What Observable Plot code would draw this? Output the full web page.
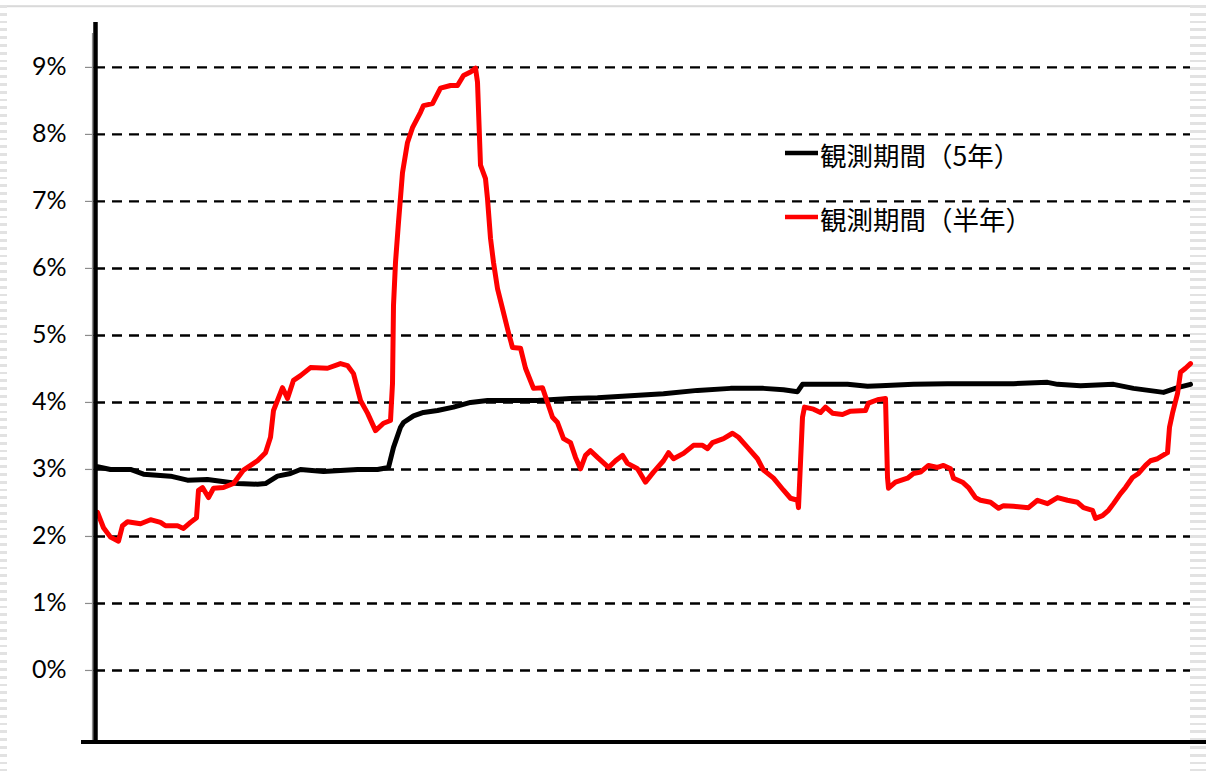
<!DOCTYPE html>
<html>
<head>
<meta charset="utf-8">
<script src="https://cdn.jsdelivr.net/npm/d3@7"></script>
<script src="https://cdn.jsdelivr.net/npm/@observablehq/plot@0.6"></script>
<style>
html, body { margin: 0; padding: 0; background: #fff; }
#chart {
  position: relative; width: 1206px; height: 771px;
  background: repeating-linear-gradient(to bottom, #ffffff 0px, #ffffff 5px, #e2e2e2 5px, #e2e2e2 7.8px);
}
#chart svg { display: block; }
</style>
</head>
<body>
<div id="chart"></div>
<script>
// ---- data ----
const yTicks = [0, 1, 2, 3, 4, 5, 6, 7, 8, 9];
const tickLabels = ["0%", "1%", "2%", "3%", "4%", "5%", "6%", "7%", "8%", "9%"];
const seriesNames = ["観測期間（5年）", "観測期間（半年）"];
const seriesColors = ["#000000", "#ff0000"];

// observation index (day) and rate in %, window = 5 years
const longDays = [
  2, 15, 35, 48, 75, 92, 112, 142, 162, 170,
  182, 195, 205, 228, 262, 282, 293, 298, 305, 308,
  318, 328, 342, 358, 375, 392, 408, 442, 475, 502,
  535, 568, 602, 635, 668, 688, 702, 707, 735, 752,
  772, 785, 818, 852, 885, 918, 952, 962, 985, 1018,
  1038, 1068, 1082, 1095
];
const longRates = [
  3.04, 3.00, 3.00, 2.93, 2.90, 2.84, 2.85, 2.79, 2.78, 2.79,
  2.90, 2.94, 3.00, 2.97, 3.00, 3.00, 3.03, 3.33, 3.63, 3.70,
  3.80, 3.85, 3.88, 3.93, 4.00, 4.03, 4.03, 4.03, 4.06, 4.07,
  4.10, 4.13, 4.18, 4.21, 4.21, 4.19, 4.16, 4.27, 4.27, 4.27,
  4.24, 4.25, 4.27, 4.28, 4.28, 4.28, 4.30, 4.27, 4.25, 4.27,
  4.21, 4.15, 4.22, 4.27
];

// window = half a year
const shortDays = [
  2, 8, 15, 23, 27, 32, 45, 55, 65, 70,
  82, 88, 95, 101, 103, 107, 113, 118, 128, 138,
  148, 162, 170, 175, 178, 187, 192, 198, 205, 215,
  232, 245, 252, 258, 265, 272, 280, 288, 295, 297,
  298, 300, 303, 307, 312, 317, 325, 328, 337, 345,
  355, 362, 368, 375, 380, 382, 385, 390, 392, 395,
  398, 402, 408, 413, 417, 425, 430, 438, 447, 452,
  457, 462, 468, 475, 480, 485, 490, 495, 502, 513,
  520, 527, 532, 542, 550, 558, 568, 573, 578, 588,
  598, 607, 612, 617, 628, 637, 643, 652, 662, 668,
  678, 688, 695, 702, 703, 707, 709, 718, 725, 730,
  737, 747, 755, 770, 773, 782, 790, 792, 793, 800,
  812, 818, 825, 833, 842, 848, 855, 858, 867, 873,
  880, 885, 895, 903, 908, 918, 933, 942, 952, 962,
  972, 982, 988, 997, 1000, 1007, 1013, 1018, 1025, 1030,
  1037, 1043, 1050, 1055, 1062, 1072, 1074, 1077, 1082, 1085,
  1090, 1095
];
const shortRates = [
  2.36, 2.13, 1.99, 1.93, 2.16, 2.22, 2.19, 2.25, 2.21, 2.16,
  2.16, 2.12, 2.21, 2.28, 2.69, 2.73, 2.58, 2.72, 2.73, 2.79,
  2.99, 3.13, 3.25, 3.48, 3.88, 4.22, 4.06, 4.33, 4.40, 4.52,
  4.51, 4.58, 4.55, 4.43, 4.03, 3.84, 3.58, 3.69, 3.73, 4.28,
  5.45, 6.09, 6.69, 7.43, 7.88, 8.10, 8.33, 8.43, 8.46, 8.69,
  8.73, 8.73, 8.88, 8.93, 8.99, 8.78, 7.54, 7.34, 7.04, 6.45,
  6.09, 5.70, 5.34, 5.04, 4.82, 4.81, 4.51, 4.21, 4.22, 4.00,
  3.78, 3.70, 3.46, 3.40, 3.18, 3.01, 3.21, 3.28, 3.18, 3.03,
  3.13, 3.21, 3.09, 3.01, 2.81, 2.96, 3.13, 3.25, 3.16, 3.24,
  3.36, 3.36, 3.31, 3.40, 3.46, 3.54, 3.48, 3.33, 3.16, 2.99,
  2.87, 2.69, 2.57, 2.54, 2.43, 3.78, 3.93, 3.90, 3.85, 3.93,
  3.84, 3.82, 3.87, 3.88, 3.99, 4.04, 4.06, 2.88, 2.72, 2.81,
  2.87, 2.94, 2.96, 3.06, 3.03, 3.06, 3.01, 2.87, 2.81, 2.73,
  2.58, 2.54, 2.51, 2.42, 2.46, 2.45, 2.43, 2.54, 2.49, 2.58,
  2.54, 2.51, 2.43, 2.39, 2.27, 2.31, 2.39, 2.49, 2.64, 2.73,
  2.88, 2.94, 3.06, 3.13, 3.16, 3.25, 3.63, 3.84, 4.13, 4.45,
  4.51, 4.58
];

const xDomain = [0, 1095];
const yDomain = [-1.06, 9.7];

// ---- build tables ----
const longData = longDays.map((d, i) => ({day: d, rate: longRates[i]}));
const shortData = shortDays.map((d, i) => ({day: d, rate: shortRates[i]}));

const plot = Plot.plot({
  width: 1206,
  height: 771,
  marginLeft: 95,
  marginRight: 16,
  marginTop: 20,
  marginBottom: 30,
  style: {background: "transparent", fontFamily: "Lato, 'Open Sans', sans-serif", color: "black"},
  x: {domain: xDomain, axis: null},
  y: {domain: yDomain, axis: null},
  marks: [
    Plot.ruleY(yTicks, {stroke: "black", strokeWidth: 2.4, strokeDasharray: "10,7"}),
    Plot.axisY({
      ticks: yTicks,
      tickFormat: d => tickLabels[yTicks.indexOf(d)],
      tickSize: 10,
      tickPadding: 19,
      stroke: "#8c8c8c",
      strokeWidth: 1.2,
      fill: "black",
      fontSize: 25,
      label: null
    }),
    Plot.line(longData, {x: "day", y: "rate", stroke: seriesColors[0], strokeWidth: 5, strokeLinejoin: "round", curve: "linear"}),
    Plot.line(shortData, {x: "day", y: "rate", stroke: seriesColors[1], strokeWidth: 5, strokeLinejoin: "round", curve: "linear"})
  ]
});

document.getElementById("chart").appendChild(plot);

// ---- decorations: white panel, axis lines, in-plot legend ----
const svg = d3.select(plot);
const xs = plot.scale("x"), ys = plot.scale("y");
const left = xs.apply(xDomain[0]);
const right = xs.apply(xDomain[1]);
const bottom = ys.apply(yDomain[0]);

svg.insert("rect", ":first-child")
  .attr("x", 7).attr("y", 7).attr("width", right - 7).attr("height", 771 - 7)
  .attr("fill", "white");
svg.insert("line", ":nth-child(2)")
  .attr("x1", 7).attr("x2", right).attr("y1", 6.5).attr("y2", 6.5)
  .attr("stroke", "#d9d9d9").attr("stroke-width", 1.5);

// thin grey axis line beside the thick one
svg.append("line")
  .attr("x1", left - 2.5).attr("x2", left - 2.5).attr("y1", 33).attr("y2", bottom)
  .attr("stroke", "#8c8c8c").attr("stroke-width", 1.2);
// thick vertical axis
svg.append("line")
  .attr("x1", left + 0.5).attr("x2", left + 0.5).attr("y1", 22).attr("y2", bottom + 3)
  .attr("stroke", "black").attr("stroke-width", 4.5);
// thick horizontal axis
svg.append("line")
  .attr("x1", 81).attr("x2", 1206).attr("y1", bottom + 1).attr("y2", bottom + 1)
  .attr("stroke", "black").attr("stroke-width", 4);

// legend
const legendRows = [153, 217];
const lg = svg.append("g").attr("text-anchor", "start");
seriesNames.forEach((name, i) => {
  lg.append("line")
    .attr("x1", 785).attr("x2", 818).attr("y1", legendRows[i]).attr("y2", legendRows[i])
    .attr("stroke", seriesColors[i]).attr("stroke-width", 4.5);
  lg.append("text")
    .attr("x", 820).attr("y", legendRows[i] + 1)
    .attr("text-anchor", "start")
    .attr("dominant-baseline", "central")
    .attr("font-family", "'Noto Sans CJK JP', sans-serif")
    .attr("font-size", 26.5)
    .attr("fill", "black")
    .text(name);
});
</script>
</body>
</html>
